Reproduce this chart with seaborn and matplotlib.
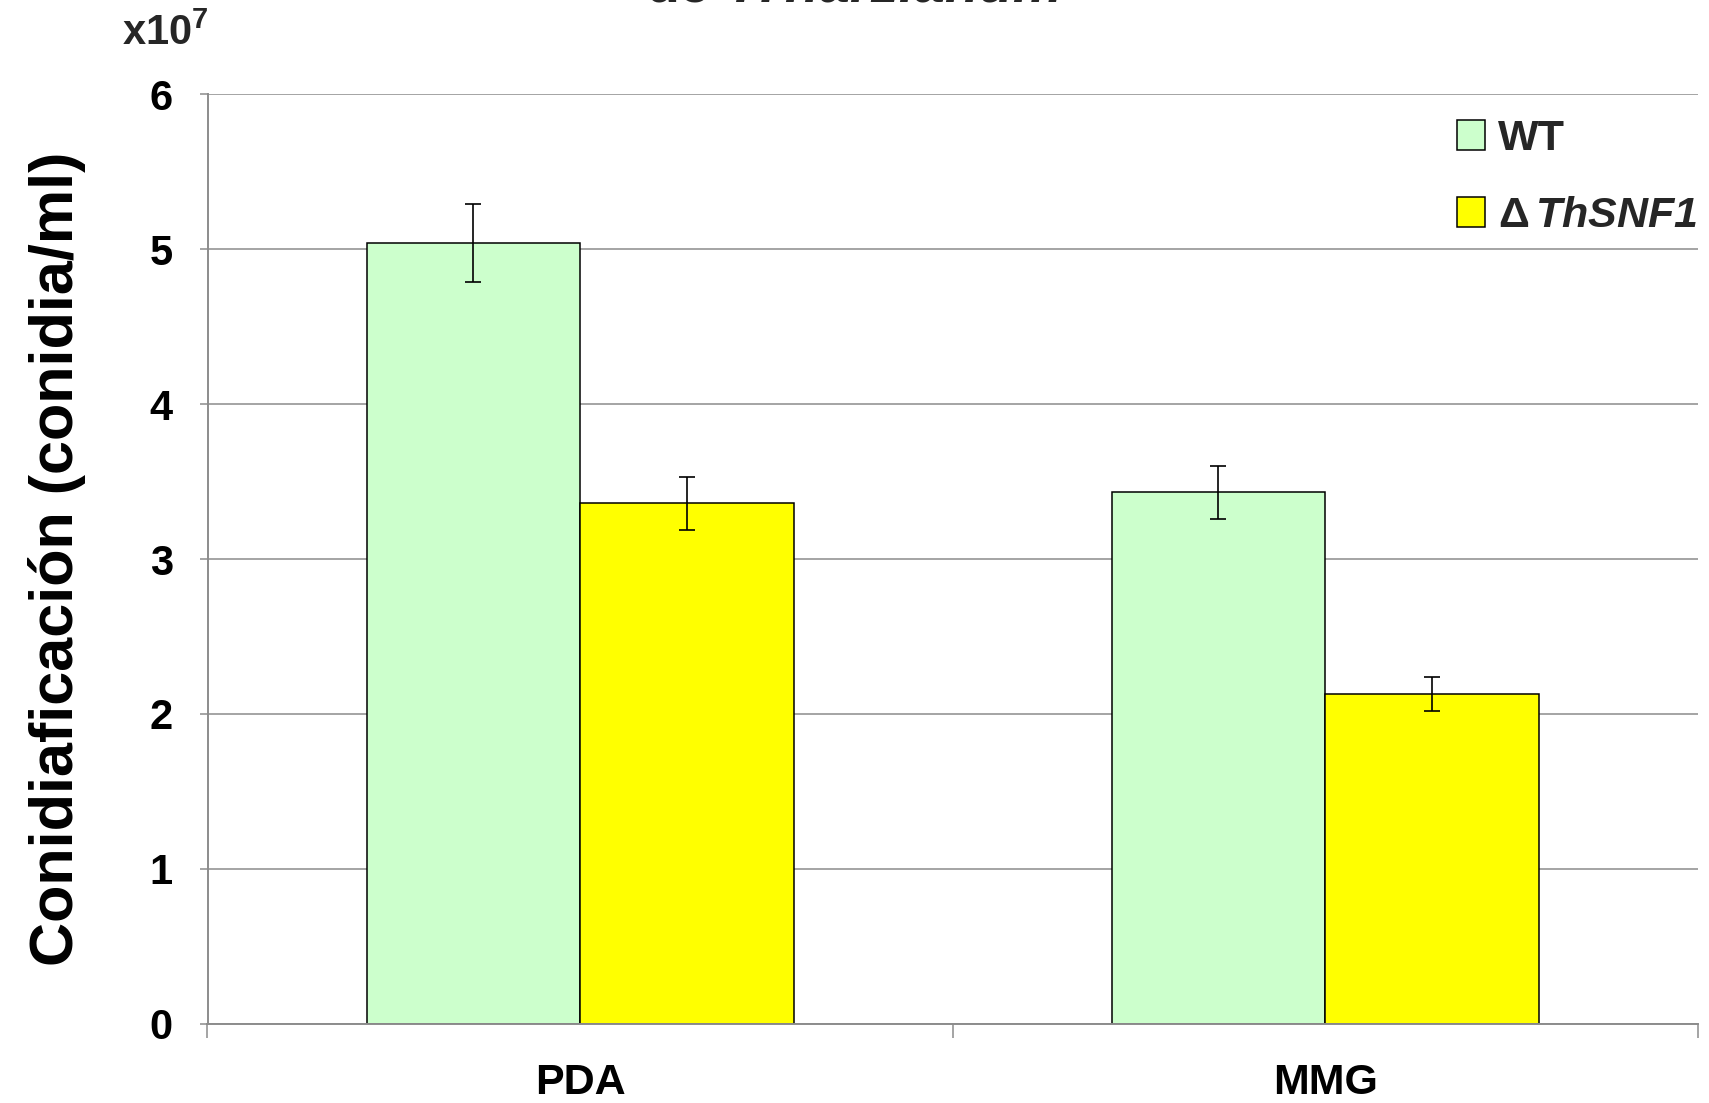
import matplotlib
matplotlib.use("Agg")
import matplotlib.pyplot as plt
import seaborn as sns
import pandas as pd
import numpy as np
from matplotlib.patches import Patch

# ---- data (x10^7 conidia/ml) ----
media = ["PDA", "MMG"]
strains = ["WT", "ΔThSNF1"]
wt_values = [5.04, 3.43]
mut_values = [3.36, 2.13]
wt_err = [0.25, 0.17]
mut_err = [0.17, 0.11]
yticks = [0, 1, 2, 3, 4, 5, 6]

df = pd.DataFrame({
    "medio": media * 2,
    "cepa": [strains[0]] * 2 + [strains[1]] * 2,
    "valor": wt_values + mut_values,
})
errs = {strains[0]: wt_err, strains[1]: mut_err}

sns.set_theme(style="white")
FONT = ["Liberation Sans", "DejaVu Sans"]
plt.rcParams["font.family"] = FONT
plt.rcParams["font.weight"] = "bold"
plt.rcParams["mathtext.fontset"] = "custom"
plt.rcParams["mathtext.rm"] = "Liberation Sans:bold:italic"
plt.rcParams["mathtext.it"] = "Liberation Sans:bold:italic"
plt.rcParams["mathtext.bf"] = "Liberation Sans:bold"
plt.rcParams["mathtext.sf"] = "Liberation Sans:bold"

colors = {strains[0]: "#CCFFCC", strains[1]: "#FFFF00"}
GRAY = "#8c8c8c"

fig = plt.figure(figsize=(17.09, 11.03), dpi=100)
ax = fig.add_axes([207.5 / 1709, 1 - 1023.7 / 1103, (1697.7 - 207.5) / 1709, (1023.7 - 94.3) / 1103])

sns.barplot(data=df, x="medio", y="valor", hue="cepa", order=media, hue_order=strains,
            palette=colors, width=0.573, errorbar=None, edgecolor="black",
            linewidth=1.1, saturation=1, ax=ax, legend=False, zorder=3)

# error bars at the bar centres
for cont, s in zip(ax.containers, strains):
    xs = [p.get_x() + p.get_width() / 2 for p in cont.patches]
    hs = [p.get_height() for p in cont.patches]
    ax.errorbar(xs, hs, yerr=errs[s], fmt="none", ecolor="black",
                elinewidth=1.2, capsize=6, capthick=1.2, zorder=4)

ax.set_xlim(-0.5, 1.5)
ax.set_ylim(0, 6)
ax.set_yticks(yticks)
ax.set_yticklabels([str(t) for t in yticks])
ax.yaxis.grid(True, color=GRAY, linewidth=1.1, zorder=0)
ax.set_axisbelow(True)

for side in ["top", "right"]:
    ax.spines[side].set_visible(False)
for side in ["left", "bottom"]:
    ax.spines[side].set_color(GRAY)
    ax.spines[side].set_linewidth(1.4)
    ax.spines[side].set_zorder(5)

ax.tick_params(axis="y", which="major", left=True, length=6, width=1.1, color=GRAY,
               labelsize=30, pad=19)
ax.tick_params(axis="x", which="major", bottom=False, labelsize=31, pad=22)
ax.set_xticks([-0.5, 0.5, 1.5], minor=True)
ax.tick_params(axis="x", which="minor", bottom=True, length=10, width=1.1, color=GRAY)
for lab in ax.get_xticklabels() + ax.get_yticklabels():
    lab.set_fontweight("bold")
    lab.set_color("black")

ax.set_xlabel("")
ax.set_ylabel("Conidiaficación (conidia/ml)", fontsize=44, fontweight="bold",
              color="black", labelpad=46)

# exponent label
fig.text(122 / 1709, 1 - 45 / 1103, r"x10$^{\mathsf{7}}$", fontsize=30, fontweight="bold",
         ha="left", va="baseline")

# cut-off title at the top
fig.text(853 / 1709, 1 - 1 / 1103, r"de $T. harzianum$", fontsize=40,
         fontweight="bold", ha="center", va="baseline")

# legend
handles = [Patch(facecolor=colors[s], edgecolor="black", linewidth=1.1) for s in strains]
labels = ["WT", r"$\mathsf{\Delta}\,ThSNF1$"]
fig.legend(handles, labels, loc="upper left", bbox_to_anchor=(1457 / 1709, 1 - 119 / 1103),
           bbox_transform=fig.transFigure, frameon=False,
           prop={"weight": "bold", "size": 31, "family": FONT},
           handlelength=0.65, handleheight=0.68, handletextpad=0.3,
           labelspacing=0.86, borderpad=0, borderaxespad=0)

fig.savefig("out.png", dpi=100)
